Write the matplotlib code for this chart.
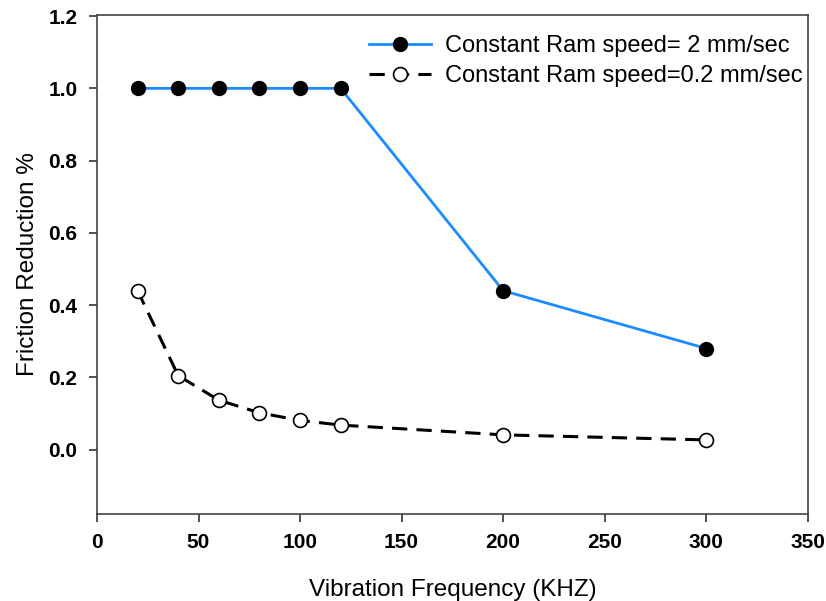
import matplotlib
matplotlib.use("Agg")
import matplotlib.pyplot as plt

plt.rcParams['font.family'] = ['Liberation Sans', 'DejaVu Sans']

freq = [20, 40, 60, 80, 100, 120, 200, 300]
fast_speed = [1.0, 1.0, 1.0, 1.0, 1.0, 1.0, 0.44, 0.28]
slow_speed = [0.44, 0.205, 0.137, 0.102, 0.081, 0.068, 0.041, 0.027]

fig = plt.figure(figsize=(8.26, 6.01), dpi=100)
ax = fig.add_axes([0.1174, 0.1448, 0.8606, 0.8302])

ax.plot(freq, fast_speed, color='#1a8cff', lw=2.0, marker='o', ms=10,
        mfc='black', mec='black', label='Constant Ram speed= 2 mm/sec', zorder=3)
ax.plot(freq, slow_speed, color='black', lw=2.2, ls=(0, (5, 3)), marker='o', ms=10,
        mfc='white', mec='black', mew=1.2, label='Constant Ram speed=0.2 mm/sec', zorder=3)

ax.set_xlim(0, 350)
ax.set_ylim(-0.178, 1.203)
ax.set_xticks(range(0, 351, 50))
ax.set_yticks([0.0, 0.2, 0.4, 0.6, 0.8, 1.0, 1.2])
ax.set_yticklabels(['0.0', '0.2', '0.4', '0.6', '0.8', '1.0', '1.2'])
ax.tick_params(direction='out', length=6, width=1.2, colors='#333333', labelcolor='black',
               labelsize=15, top=False, right=False, pad=8)
for lab in ax.get_xticklabels() + ax.get_yticklabels():
    lab.set_fontweight('bold')
for sp in ax.spines.values():
    sp.set_color('#444444')
    sp.set_linewidth(1.2)

ax.set_xlabel('Vibration Frequency (KHZ)', fontsize=17.5, labelpad=19)
ax.set_ylabel('Friction Reduction %', fontsize=17.5, labelpad=7)

ax.legend(loc='upper right', bbox_to_anchor=(1.006, 0.979), frameon=False, fontsize=17,
          handlelength=2.6, handletextpad=0.6, borderaxespad=0, labelspacing=0.36)

fig.savefig('out.png', dpi=100)
